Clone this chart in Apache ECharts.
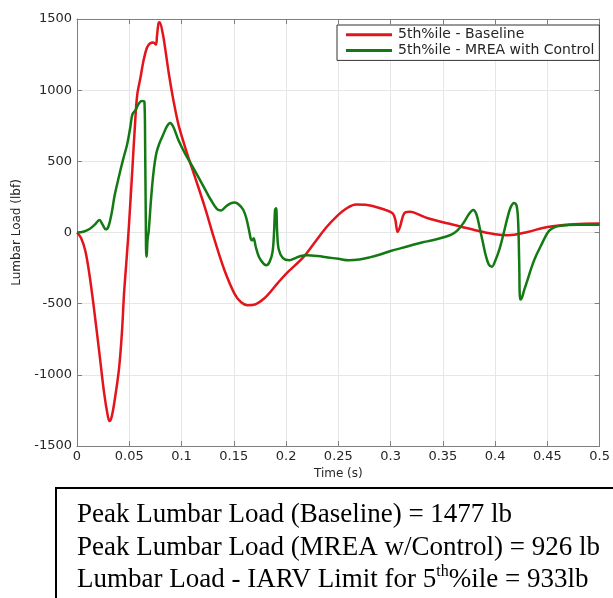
<!DOCTYPE html>
<html lang="en">
<head>
    <meta charset="UTF-8">
    <title>Lumbar Load</title>
    <script src="https://cdn.jsdelivr.net/npm/echarts@6/dist/echarts.min.js"></script>
    <style>
        html, body { margin: 0; padding: 0; background: #fff; }
        #main { width: 613px; height: 598px; }
    </style>
</head>
<body>
<div id="main"></div>
<script>
    // series names
    const legendNames = ['5th%ile - Baseline', '5th%ile - MREA with Control'];

    // 5th%ile - Baseline (time s, load lbf)
    const baselineTime = [0, 0.004, 0.008, 0.012, 0.016, 0.0213, 0.026, 0.0295, 0.031, 0.033, 0.036, 0.0402, 0.043, 0.045, 0.0475,
        0.0497, 0.053, 0.0555, 0.0575, 0.0605, 0.064, 0.067, 0.07, 0.073, 0.0755, 0.0765, 0.078, 0.079, 0.082, 0.085, 0.088,
        0.0922, 0.097, 0.1033, 0.108, 0.1128, 0.1222, 0.1317, 0.1411, 0.1506, 0.157, 0.1632, 0.168, 0.179, 0.1916, 0.2,
        0.2168, 0.229, 0.239, 0.248, 0.258, 0.267, 0.276, 0.2956, 0.302, 0.3045, 0.3067, 0.309, 0.313, 0.318, 0.322, 0.3366,
        0.3555, 0.381, 0.4, 0.4123, 0.431, 0.45, 0.4754, 0.5];
    const baselineLoad = [0, -40, -130, -300, -520, -840, -1130, -1290, -1325, -1300, -1180, -956, -700, -430, -180,
        50, 450, 760, 960, 1080, 1220, 1300, 1330, 1335, 1320, 1380, 1470, 1477, 1400, 1260, 1110,
        930, 760, 602, 495, 391, 180, -54, -265, -429, -490, -511, -510, -464, -359, -290,
        -171, -54, 40, 110, 170, 197, 195, 157, 134, 90, 4, 40, 134, 145, 141, 98,
        63, 16, -12, -19, 4, 39, 58, 63];

    // 5th%ile - MREA with Control (time s, load lbf)
    const mreaTime = [0, 0.006, 0.012, 0.017, 0.0215, 0.0245, 0.0275, 0.03, 0.033, 0.036, 0.04, 0.044, 0.048, 0.051, 0.053,
        0.056, 0.059, 0.062, 0.0645, 0.0652, 0.0658, 0.0663, 0.0668, 0.0675, 0.0686, 0.071, 0.0733, 0.076, 0.079, 0.082,
        0.086, 0.089, 0.092, 0.097, 0.1033, 0.11, 0.116, 0.122, 0.128, 0.134, 0.138, 0.142, 0.147, 0.151, 0.155, 0.159,
        0.162, 0.165, 0.1665, 0.168, 0.169, 0.171, 0.174, 0.178, 0.181, 0.184, 0.187, 0.1885, 0.1895, 0.1905, 0.1915,
        0.193, 0.197, 0.203, 0.209, 0.214, 0.22, 0.23, 0.24, 0.25, 0.26, 0.27, 0.28, 0.29, 0.3, 0.31, 0.32, 0.33, 0.34,
        0.35, 0.358, 0.364, 0.37, 0.375, 0.379, 0.382, 0.385, 0.388, 0.391, 0.394, 0.397, 0.4, 0.404, 0.408, 0.412, 0.415,
        0.418, 0.4205, 0.422, 0.423, 0.424, 0.4255, 0.428, 0.432, 0.436, 0.44, 0.444, 0.448, 0.452, 0.457, 0.463, 0.47,
        0.48, 0.5];
    const mreaLoad = [0, 5, 25, 55, 88, 55, 22, 40, 130, 260, 390, 510, 620, 740, 830,
        860, 905, 924, 918, 600, 100, -170, -150, -50, 10, 250, 430, 560, 630, 680,
        745, 770, 745, 650, 555, 470, 391, 310, 230, 165, 155, 180, 205, 210, 195, 160,
        100, 0, -50, -55, -40, -100, -170, -215, -230, -210, -140, 0, 160, 170, 0,
        -120, -180, -195, -180, -165, -160, -165, -175, -185, -195, -190, -175, -155, -130, -110, -90, -70, -55,
        -35, -15, 15, 70, 130, 158, 130, 40, -60, -160, -225, -240, -200, -120, -10, 110, 180,
        208, 190, 80, -200, -470, -460, -400, -310, -220, -150, -90, -30, 15, 38, 48, 52,
        54, 55];

    // tick labels
    const xTickLabels = ['0', '0.05', '0.1', '0.15', '0.2', '0.25', '0.3', '0.35', '0.4', '0.45', '0.5'];
    const yTickLabels = ['-1500', '-1000', '-500', '0', '500', '1000', '1500'];

    // summary box
    const noteLines = [
        'Peak Lumbar Load (Baseline) = 1477 lb',
        'Peak Lumbar Load (MREA w/Control) = 926 lb'
    ];
    const noteLast = ['Lumbar Load - IARV Limit for 5', 'th', '%ile = 933lb'];

    function zip(t, v) {
        return t.map((x, i) => [x, v[i]]);
    }

    const sans = 'DejaVu Sans';
    const serif = 'Liberation Serif';
    const axisGray = '#7f7f7f';
    const labelColor = '#262626';

    let myChart = echarts.init(document.getElementById('main'), null, {renderer: 'canvas'});

    const xBase = {
        type: 'value', min: 0, max: 0.5, interval: 0.05,
        axisLine: {onZero: false, lineStyle: {color: axisGray, width: 1}},
        axisTick: {inside: true, length: 5, lineStyle: {color: axisGray}}
    };
    const yBase = {
        type: 'value', min: -1500, max: 1500, interval: 500,
        axisLine: {show: true, onZero: false, lineStyle: {color: axisGray, width: 1}},
        axisTick: {show: true, inside: true, length: 5, lineStyle: {color: axisGray}}
    };

    let option = {
        animation: false,
        backgroundColor: '#fff',
        grid: {left: 77, right: 7, top: 19, bottom: 152, containLabel: false},
        legend: {
            data: legendNames,
            orient: 'vertical',
            left: 337, top: 25,
            padding: [2, 5, 2, 9],
            itemGap: 0,
            itemWidth: 46, itemHeight: 3,
            icon: 'rect',
            backgroundColor: '#fff',
            borderColor: '#333', borderWidth: 1, borderRadius: 0,
            textStyle: {fontFamily: sans, fontSize: 14, color: labelColor, lineHeight: 15.7, padding: [0, 0, 0, 1]}
        },
        xAxis: [
            Object.assign({}, xBase, {
                position: 'bottom',
                name: 'Time (s)', nameLocation: 'middle', nameGap: 21,
                nameTextStyle: {fontFamily: sans, fontSize: 12, color: labelColor},
                axisLabel: {
                    margin: 4, fontFamily: sans, fontSize: 13, color: labelColor,
                    alignMinLabel: 'center', alignMaxLabel: 'center',
                    formatter: (v, i) => xTickLabels[i]
                },
                splitLine: {show: true, lineStyle: {color: '#e6e6e6', width: 1}}
            }),
            Object.assign({}, xBase, {
                position: 'top',
                axisLabel: {show: false},
                splitLine: {show: false}
            })
        ],
        yAxis: [
            Object.assign({}, yBase, {
                position: 'left',
                name: 'Lumbar Load (lbf)', nameLocation: 'middle', nameGap: 52,
                nameTextStyle: {fontFamily: sans, fontSize: 12, color: labelColor},
                axisLabel: {
                    margin: 5, fontFamily: sans, fontSize: 13, color: labelColor,
                    formatter: (v, i) => yTickLabels[i]
                },
                splitLine: {show: true, lineStyle: {color: '#e6e6e6', width: 1}}
            }),
            Object.assign({}, yBase, {
                position: 'right',
                axisLabel: {show: false},
                splitLine: {show: false}
            })
        ],
        series: [
            {
                name: legendNames[0],
                type: 'line',
                data: zip(baselineTime, baselineLoad),
                showSymbol: false, symbol: 'none',
                smooth: 0.35,
                color: '#e3141b',
                lineStyle: {color: '#e3141b', width: 2.5},
                z: 3
            },
            {
                name: legendNames[1],
                type: 'line',
                data: zip(mreaTime, mreaLoad),
                showSymbol: false, symbol: 'none',
                smooth: 0.35,
                color: '#137a13',
                lineStyle: {color: '#137a13', width: 2.5},
                z: 4
            }
        ],
        graphic: [
            {
                type: 'rect',
                shape: {x: 56, y: 488, width: 600, height: 150},
                style: {fill: '#fff', stroke: '#000', lineWidth: 2}
            },
            {
                type: 'text',
                x: 77, y: 499,
                style: {
                    text: noteLines.map(s => '{m|' + s + '}').join('\n') + '\n' +
                        '{m|' + noteLast[0] + '}{s|' + noteLast[1] + '}{m|' + noteLast[2] + '}',
                    rich: {
                        m: {fontFamily: serif, fontSize: 27, lineHeight: 32.3, fill: '#000'},
                        s: {fontFamily: serif, fontSize: 16, lineHeight: 32.3, fill: '#000', verticalAlign: 'top', padding: [0, 0, 10, 0]}
                    }
                }
            }
        ]
    };

    myChart.setOption(option);
</script>
</body>
</html>
